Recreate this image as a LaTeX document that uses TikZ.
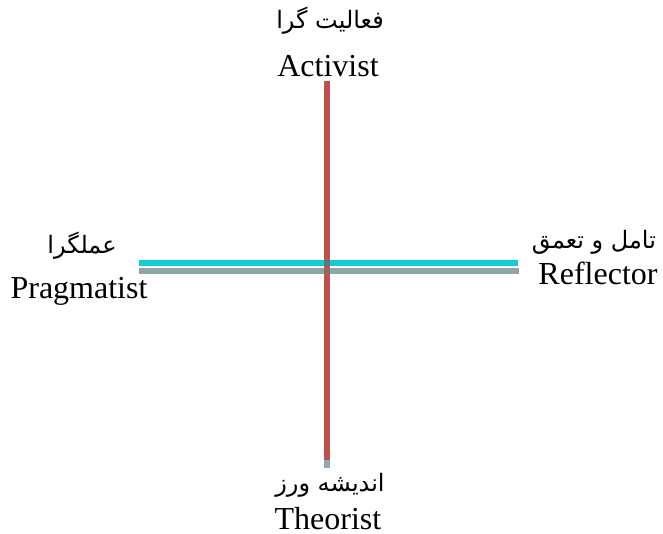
\documentclass[tikz,border=0pt]{standalone}
\usepackage{fontspec}
\setmainfont{Liberation Serif}
\newfontfamily\arabicfont[Script=Arabic]{DejaVu Sans}
\TeXXeTstate=1
\definecolor{axred}{HTML}{C0504D}
\definecolor{axcyan}{HTML}{12CDD6}
\definecolor{axgray}{HTML}{8FA6A8}
\definecolor{axblue}{HTML}{8FA7B6}
\begin{document}
\begin{tikzpicture}[x=0.5pt,y=-0.5pt,
  en/.style={font=\fontsize{16}{18}\selectfont, inner sep=0pt, anchor=base},
  fa/.style={font=\arabicfont\fontsize{12}{14}\selectfont, inner sep=0pt, anchor=base},
  axis/.style={line width=3pt}]
\useasboundingbox (0,0) rectangle (663,534);
% horizontal axis
\coordinate (cl) at (139,263);
\coordinate (cr) at (518,263);
\coordinate (gl) at (139,271);
\coordinate (gr) at (519,271);
\draw[axis, axcyan] (cl) -- (cr);
\draw[axis, axgray] (gl) -- (gr);
% vertical axis
\coordinate (vt) at (327,81);
\coordinate (vm) at (327,460);
\coordinate (vb) at (327,468);
\draw[axis, axblue] (vm) -- (vb);
\draw[axis, axred] (vt) -- (vm);
% crossings
\draw[axis, axred!50!axcyan!85!black] ([xshift=-1.5pt]vt |- cl) -- ([xshift=1.5pt]vt |- cl);
\draw[axis, axred!50!axgray!85!black] ([xshift=-1.5pt]vt |- gl) -- ([xshift=1.5pt]vt |- gl);
% labels
\node[fa] (faA) at (330,29) {\beginR فعالیت گرا\endR};
\node[en] (enA) at (328,77) {Activist};
\node[fa] (faP) at (82,253) {\beginR عملگرا\endR};
\node[en] (enP) at (79,298) {Pragmatist};
\node[fa] (faR) at (594,249) {\beginR تامل و تعمق\endR};
\node[en] (enR) at (598,284) {Reflector};
\node[fa] (faT) at (330,491) {\beginR اندیشه ورز\endR};
\node[en] (enT) at (328,529) {Theorist};
\end{tikzpicture}
\end{document}
